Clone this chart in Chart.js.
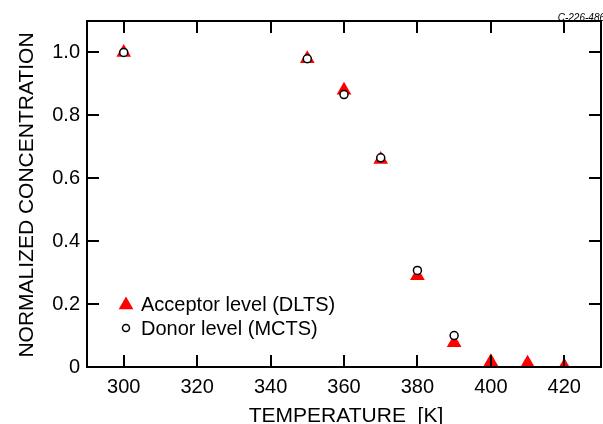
<!DOCTYPE html>
<html>
<head>
<meta charset="utf-8">
<script src="https://cdn.jsdelivr.net/npm/chart.js@4/dist/chart.umd.min.js"></script>
<style>
html,body{margin:0;padding:0;background:#fff;}
#wrap{width:603px;height:424px;position:relative;}
</style>
</head>
<body>
<div id="wrap"><canvas id="c" width="603" height="424"></canvas></div>
<script>
// ---- data ----
const acceptorTemps = [300, 350, 360, 370, 380, 390, 400, 410, 420];
const acceptorValues = [1.0, 0.98, 0.88, 0.66, 0.29, 0.077, 0.017, 0.012, 0.002];
const donorTemps = [300, 350, 360, 370, 380, 390];
const donorValues = [1.0, 0.98, 0.866, 0.665, 0.307, 0.10];
const xTickValues = [300, 320, 340, 360, 380, 400, 420];
const yTickValues = [0, 0.2, 0.4, 0.6, 0.8, 1.0];
const seriesLabels = ['Acceptor level (DLTS)', 'Donor level (MCTS)'];
const xTitle = 'TEMPERATURE  [K]';
const yTitle = 'NORMALIZED CONCENTRATION';
const codeLabel = 'C-226-486';

const FONT = '"Liberation Sans", Arial, Helvetica, sans-serif';

const toPoints = (xs, ys) => xs.map((x, i) => ({x: x, y: ys[i]}));

const framePlugin = {
  id: 'frame',
  afterDatasetsDraw(chart) {
    const ctx = chart.ctx;
    const a = chart.chartArea;
    const xs = chart.scales.x, ys = chart.scales.y;
    ctx.save();
    ctx.strokeStyle = '#000';
    ctx.lineWidth = 2;
    ctx.lineCap = 'butt';
    ctx.strokeRect(a.left, a.top, a.right - a.left, a.bottom - a.top);
    const L = 12;
    ctx.beginPath();
    xTickValues.forEach(v => {
      const px = Math.round(xs.getPixelForValue(v));
      ctx.moveTo(px, a.bottom); ctx.lineTo(px, a.bottom - L);
      ctx.moveTo(px, a.top); ctx.lineTo(px, a.top + L);
    });
    yTickValues.forEach(v => {
      const py = Math.round(ys.getPixelForValue(v));
      ctx.moveTo(a.left, py); ctx.lineTo(a.left + L, py);
      ctx.moveTo(a.right, py); ctx.lineTo(a.right - L, py);
    });
    ctx.stroke();
    ctx.restore();
  },
  afterDraw(chart) {
    const ctx = chart.ctx;
    const a = chart.chartArea;
    ctx.save();
    ctx.fillStyle = '#000';
    ctx.font = '21px ' + FONT;
    ctx.textAlign = 'center';
    ctx.textBaseline = 'alphabetic';
    ctx.fillText(xTitle, (a.left + a.right) / 2 + 2, 422);
    ctx.save();
    ctx.translate(33, (a.top + a.bottom) / 2 + 1);
    ctx.rotate(-Math.PI / 2);
    ctx.fillText(yTitle, 0, 0);
    ctx.restore();
    // legend inside plot
    const ds = chart.data.datasets;
    ctx.textAlign = 'left';
    ctx.textBaseline = 'middle';
    const lx = 126, ly = [304, 328];
    ds.forEach((d, i) => {
      ctx.fillStyle = d.backgroundColor;
      ctx.strokeStyle = d.borderColor;
      ctx.lineWidth = d.borderWidth;
      Chart.helpers.drawPoint(ctx, {
        pointStyle: d.pointStyle,
        radius: i === 0 ? 8.5 : 3.5,
        rotation: 0,
        borderWidth: d.borderWidth
      }, lx, i === 0 ? ly[i] + 1 : ly[i]);
      ctx.fillStyle = '#000';
      ctx.font = '20px ' + FONT;
      ctx.fillText(d.label, 141, ly[i] + 1);
    });
    ctx.font = 'italic 10px ' + FONT;
    ctx.textAlign = 'right';
    ctx.textBaseline = 'alphabetic';
    ctx.fillStyle = '#000';
    ctx.fillText(codeLabel, 605, 21);
    ctx.restore();
  }
};

new Chart(document.getElementById('c'), {
  type: 'scatter',
  data: {
    datasets: [
      {
        label: seriesLabels[0],
        data: toPoints(acceptorTemps, acceptorValues),
        pointStyle: 'triangle',
        pointRadius: 8.5,
        backgroundColor: '#ff0000',
        borderColor: '#ff0000',
        borderWidth: 0,
        order: 2
      },
      {
        label: seriesLabels[1],
        data: toPoints(donorTemps, donorValues),
        pointStyle: 'circle',
        pointRadius: 4,
        backgroundColor: '#ffffff',
        borderColor: '#000000',
        borderWidth: 1.5,
        order: 1
      }
    ]
  },
  plugins: [framePlugin],
  options: {
    responsive: false,
    animation: false,
    devicePixelRatio: 1,
    layout: { autoPadding: false, padding: { top: 21, right: 2, left: 0, bottom: 0 } },
    plugins: { legend: { display: false }, tooltip: { enabled: false } },
    scales: {
      x: {
        type: 'linear',
        min: 290, max: 430,
        grid: { display: false, drawTicks: false },
        border: { display: false },
        afterBuildTicks: s => { s.ticks = xTickValues.map(v => ({value: v})); },
        afterFit: s => { s.height = 57; s.paddingLeft = 0; s.paddingRight = 0; },
        ticks: {
          color: '#000',
          padding: 8,
          font: { family: FONT, size: 20 },
          maxRotation: 0,
          callback: v => String(v)
        }
      },
      y: {
        type: 'linear',
        min: 0, max: 1.1,
        grid: { display: false, drawTicks: false },
        border: { display: false },
        afterBuildTicks: s => { s.ticks = yTickValues.map(v => ({value: v})); },
        afterFit: s => { s.width = 87; s.paddingTop = 0; s.paddingBottom = 0; },
        ticks: {
          color: '#000',
          padding: 7,
          font: { family: FONT, size: 20 },
          callback: v => (v === 0 ? '0' : v.toFixed(1))
        }
      }
    }
  }
});
</script>
</body>
</html>
